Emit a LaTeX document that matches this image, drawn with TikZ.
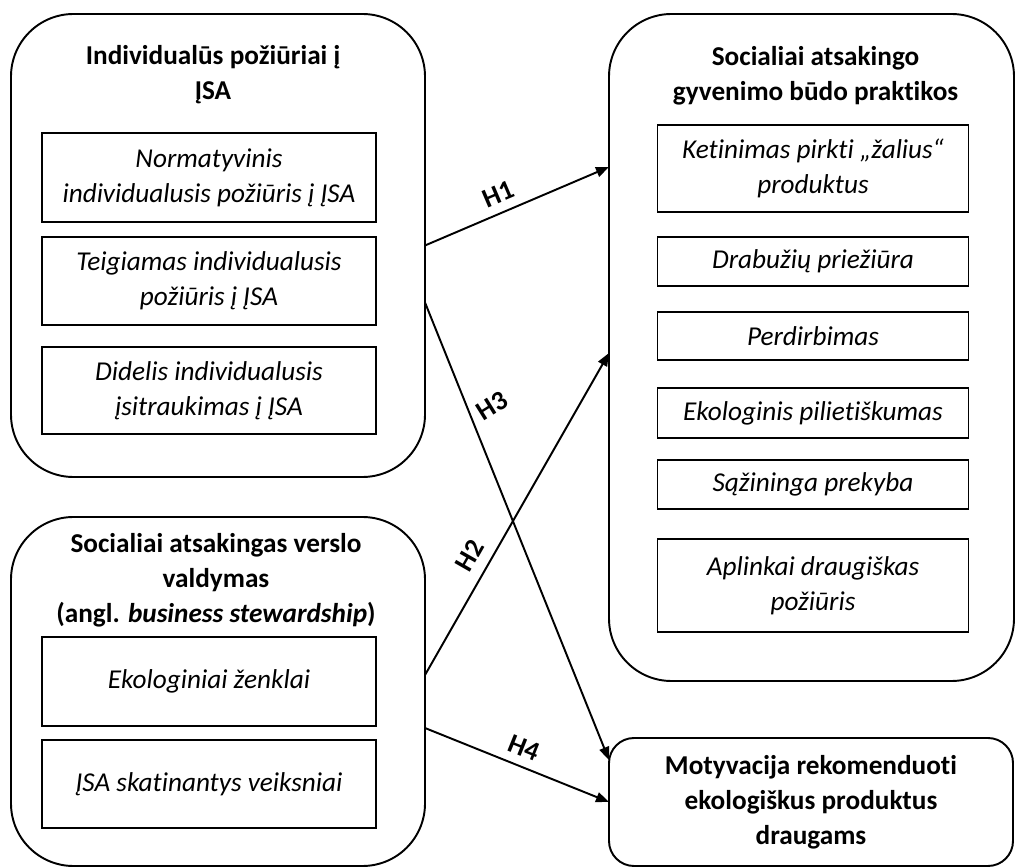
\documentclass[tikz,border=0pt]{standalone}
\usepackage{fontspec}
\setmainfont{Carlito}[Ligatures=NoCommon]
\usepackage{tikz}
\usetikzlibrary{calc,positioning,arrows.meta}
\newcommand{\diagfont}{\fontsize{15.5}{19.8}\selectfont}

\begin{document}
\begin{tikzpicture}[
  outerbox/.style={rectangle, rounded corners=1.25cm, draw, line width=1.1pt, inner sep=0pt, outer sep=0pt},
  innerbox/.style={rectangle, draw, line width=1.1pt, font=\diagfont\itshape, align=center,
    inner sep=2pt, outer sep=0pt, minimum width=6.68cm},
  rbox/.style={innerbox, minimum width=6.22cm},
  heading/.style={font=\diagfont\bfseries, align=center},
  arr/.style={-{Triangle[length=0.26cm,width=0.2cm]}, line width=1.1pt},
  hyp/.style={font=\diagfont\bfseries, inner sep=1pt}
]
  \fill[white] (0,0) rectangle (20.32,-17.36);
  \useasboundingbox (0,0) rectangle (20.32,-17.36);

  % išoriniai rėmai
  \node[outerbox, minimum width=8.28cm, minimum height=9.26cm] (indiv) at (4.36,-4.91) {};
  \node[outerbox, minimum width=8.28cm, minimum height=6.98cm] (verslo) at (4.36,-13.83) {};
  \node[outerbox, minimum width=8.1cm, minimum height=13.34cm] (prakt) at (16.23,-6.95) {};
  \node[outerbox, heading, rounded corners=0.5cm, minimum width=8.08cm, minimum height=2.56cm] (motyv) at (16.22,-16.04)
    {Motyvacija rekomenduoti\\ekologiškus produktus\\draugams};

  % antraštės
  \node[heading] (indivT) at (4.26,-1.5) {Individualūs požiūriai į\\ĮSA};
  \node[heading] (versloT) at (4.32,-11.6) {Socialiai atsakingas verslo\\valdymas\\(angl. \textit{business stewardship})};
  \node[heading] (praktT) at (16.31,-1.52) {Socialiai atsakingo\\gyvenimo būdo praktikos};

  % kairė pusė
  \node[innerbox, minimum height=1.78cm] (norm) at (4.18,-3.55) {Normatyvinis\\individualusis požiūris į ĮSA};
  \node[innerbox, minimum height=1.76cm, below=0.3cm of norm] (teig) {Teigiamas individualusis\\požiūris į ĮSA};
  \node[innerbox, minimum height=1.74cm, below=0.44cm of teig] (didel) {Didelis individualusis\\įsitraukimas į ĮSA};

  \node[innerbox, minimum height=1.78cm] (zenkl) at (4.18,-13.63) {Ekologiniai ženklai};
  \node[innerbox, minimum height=1.76cm, below=0.28cm of zenkl] (skat) {ĮSA skatinantys veiksniai};

  % dešinė pusė
  \node[rbox, minimum height=1.74cm] (ketin) at (16.26,-3.37) {Ketinimas pirkti „žalius“\\produktus};
  \node[rbox, minimum height=0.98cm, below=0.5cm of ketin] (drab) {Drabužių priežiūra};
  \node[rbox, minimum height=0.96cm, below=0.52cm of drab] (perd) {Perdirbimas};
  \node[rbox, minimum height=1.0cm, below=0.56cm of perd] (pilie) {Ekologinis pilietiškumas};
  \node[rbox, minimum height=0.98cm, below=0.44cm of pilie] (prekyb) {Sąžininga prekyba};
  \node[rbox, minimum height=1.86cm, below=0.6cm of prekyb] (aplink) {Aplinkai draugiškas\\požiūris};

  % hipotezės
  \draw[arr] (indiv.east) -- node[hyp, pos=0.44, sloped, above=4pt] {H1} ([yshift=3.61cm]prakt.west);
  \draw[arr] ([yshift=-1.14cm]indiv.east) -- node[hyp, pos=0.225, xshift=0.52cm, rotate=32] {H3} ([yshift=0.84cm]motyv.west);
  \draw[arr] ([yshift=0.33cm]verslo.east) -- node[hyp, pos=0.34, sloped, above=5pt] {H2} ([yshift=-0.11cm]prakt.west);
  \draw[arr] ([yshift=-0.73cm]verslo.east) -- node[hyp, pos=0.5, sloped, above=4pt] {H4} (motyv.west);
\end{tikzpicture}
\end{document}
